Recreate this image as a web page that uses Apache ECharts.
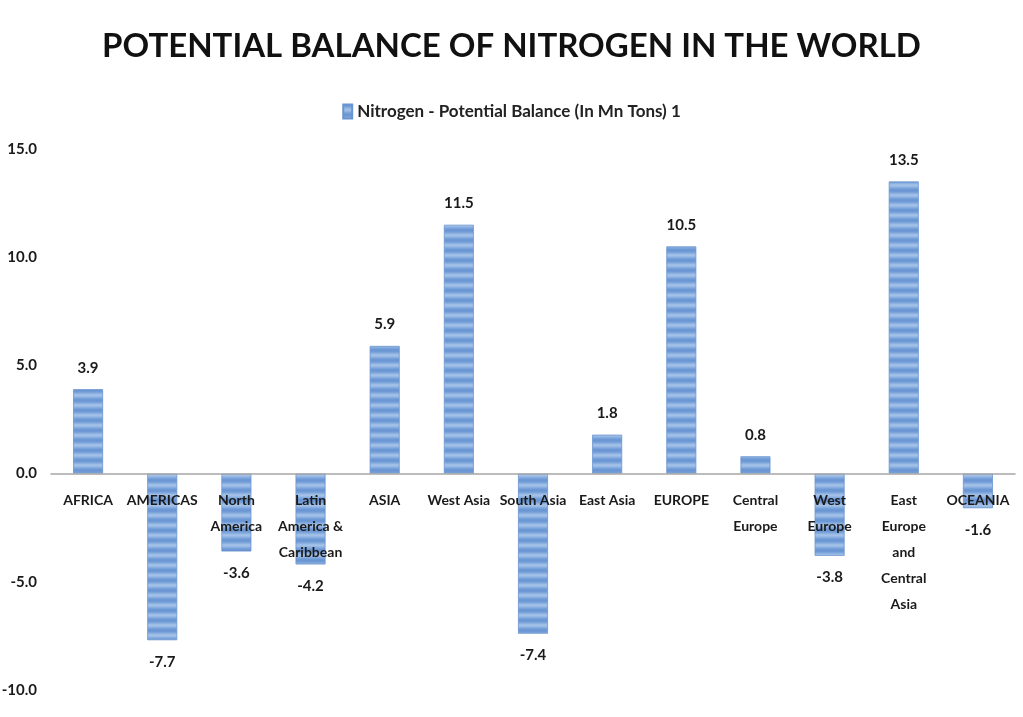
<!DOCTYPE html>
<html>
<head>
<meta charset="utf-8">
<script src="https://cdn.jsdelivr.net/npm/echarts@6/dist/echarts.min.js"></script>
<style>html,body{margin:0;padding:0;background:#fff}#c{width:1023px;height:717px}</style>
</head>
<body>
<div id="c"></div>
<script>
const titleText = 'POTENTIAL BALANCE OF NITROGEN IN THE WORLD';
const seriesName = 'Nitrogen - Potential Balance (In Mn Tons) 1';
const categories = ['AFRICA','AMERICAS','North\nAmerica','Latin\nAmerica &\nCaribbean','ASIA','West Asia','South Asia','East Asia','EUROPE','Central\nEurope','West\nEurope','East\nEurope\nand\nCentral\nAsia','OCEANIA'];
const values = [3.9,-7.7,-3.6,-4.2,5.9,11.5,-7.4,1.8,10.5,0.8,-3.8,13.5,-1.6];
const yMin = -10, yMax = 15, yStep = 5;

// striped fill pattern
const pc = document.createElement('canvas');
pc.width = 4; pc.height = 10;
const g = pc.getContext('2d');
const rows = ['#6a96d3','#6f9ad6','#7ba4da','#8cb0e0','#9dbde6','#a3c1e8','#98b9e4','#87ade0','#78a2da','#6d98d5'];
rows.forEach((c,i)=>{g.fillStyle=c;g.fillRect(0,i,4,1);});

const chart = echarts.init(document.getElementById('c'));
const font = 'Lato, "Open Sans", sans-serif';
chart.setOption({
  backgroundColor:'#fff',
  title:{text:titleText,left:'center',top:25,textStyle:{fontFamily:'Lato, sans-serif',fontWeight:'bold',fontSize:33,color:'#111'}},
  legend:{top:98,left:'center',itemWidth:9,itemHeight:14,icon:'rect',itemGap:5,
    textStyle:{fontFamily:font,fontWeight:'bold',fontSize:17,color:'#222'},data:[seriesName]},
  grid:{left:51,right:8,top:149,bottom:27,outerBoundsMode:'none',containLabel:false},
  xAxis:{type:'category',data:categories,position:'bottom',offset:-216,z:10,
    axisLine:{onZero:false,lineStyle:{color:'#a6a6a6',width:1.5}},axisTick:{show:false},
    axisLabel:{interval:0,margin:13,fontFamily:font,fontWeight:'bold',fontSize:14,lineHeight:26,color:'#1a1a1a'}},
  yAxis:{type:'value',min:yMin,max:yMax,interval:yStep,splitLine:{show:false},axisLine:{show:false},axisTick:{show:false},
    axisLabel:{margin:14,formatter:v=>v.toFixed(1),fontFamily:font,fontWeight:'bold',fontSize:15,color:'#1a1a1a'}},
  series:[{name:seriesName,type:'bar',barWidth:30,z:2,
    itemStyle:{color:{image:pc,repeat:'repeat'},borderColor:'#6a94cf',borderWidth:0.8},
    data:values.map(v=>({value:v,label:{position:v<0?'bottom':'top'}})),
    label:{show:true,distance:14,formatter:p=>p.value.toFixed(1),fontFamily:font,fontWeight:'bold',fontSize:15,color:'#1a1a1a'}}]
});
</script>
</body>
</html>
